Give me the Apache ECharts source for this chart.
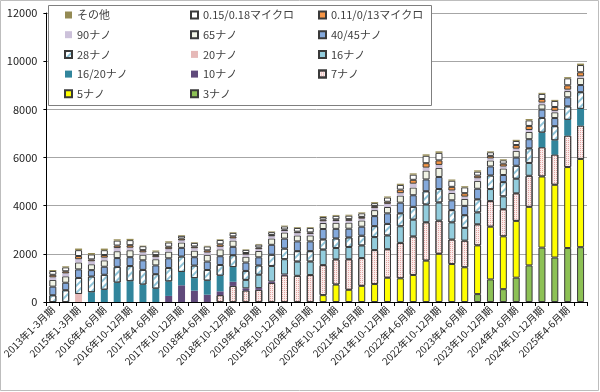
<!DOCTYPE html>
<html><head><meta charset="utf-8">
<script src="https://cdn.jsdelivr.net/npm/echarts@6/dist/echarts.min.js"></script>
<style>html,body{margin:0;padding:0;background:#fff}#c{width:600px;height:392px}</style>
</head><body><div id="c"></div><script>
function pad(k){ return Array(k).fill(null); }

const categories = [
 '2013年1-3月期','2014年1-3月期','2015年1-3月期','2016年1-3月期','2016年4-6月期','2016年7-9月期','2016年10-12月期',
 '2017年1-3月期','2017年4-6月期','2017年7-9月期','2017年10-12月期',
 '2018年1-3月期','2018年4-6月期','2018年7-9月期','2018年10-12月期',
 '2019年1-3月期','2019年4-6月期','2019年7-9月期','2019年10-12月期',
 '2020年1-3月期','2020年4-6月期','2020年7-9月期','2020年10-12月期',
 '2021年1-3月期','2021年4-6月期','2021年7-9月期','2021年10-12月期',
 '2022年1-3月期','2022年4-6月期','2022年7-9月期','2022年10-12月期',
 '2023年1-3月期','2023年4-6月期','2023年7-9月期','2023年10-12月期',
 '2024年1-3月期','2024年4-6月期','2024年7-9月期','2024年10-12月期',
 '2025年1-3月期','2025年4-6月期','2025年7-9月期'
];

const yTicks = [0, 2000, 4000, 6000, 8000, 10000, 12000];

const s3 = pad(33).concat([328, 938, 533, 1010, 1519, 2258, 1846, 2241, 2277]);
const s5 = pad(21).concat([285, 723, 507, 670, 746, 1008, 982, 1122, 1717, 2002, 1577, 1442, 2023, 2189, 2193, 2357, 2431, 2953, 3021, 3362, 3663]);
const s7 = pad(13).concat([286, 667, 481, 506, 791, 1110, 1087, 1119, 1247, 1048, 1268, 1154, 1410, 1183, 1473, 1602, 1594, 1376, 1017, 1106, 875, 1063, 1126, 1145, 1291, 1216, 1259, 1307, 1386]);
const s10 = pad(9).concat([252, 694, 471, 303, 156, 174, 87, 72, 59, 32]).concat(pad(23));
const s1620 = pad(3).concat([407, 510, 807, 865, 725, 556, 605, 555, 521, 583, 651, 609]).concat(pad(23)).concat([608, 588, 654, 693]);
const s16 = pad(15).concat([350, 554, 645, 634, 590, 559, 642, 470, 507, 521, 539, 570, 688, 694, 736, 751, 712, 529, 492, 500, 533, 606, 532]).concat(pad(4));
const s20 = [null, null, 333].concat(pad(39));
const s28 = [279, 489, 666, 651, 621, 651, 629, 608, 599, 555, 638, 521, 443, 443, 493, 372, 386, 469, 444, 435, 435, 428, 398, 399, 409, 456, 482, 540, 534, 552, 563, 509, 529, 547, 563, 593, 539, 608, 608, 588, 560, 693];
const s4045 = [359, 311, 355, 265, 333, 365, 367, 398, 364, 403, 361, 347, 350, 364, 348, 350, 337, 410, 412, 404, 404, 428, 398, 362, 372, 415, 438, 442, 481, 490, 500, 407, 385, 437, 375, 296, 340, 380, 347, 336, 374, 297];
const s65 = [279, 267, 289, 244, 266, 286, 288, 234, 257, 277, 222, 273, 280, 286, 261, 241, 265, 264, 254, 248, 249, 249, 253, 254, 260, 249, 263, 295, 320, 368, 375, 305, 288, 328, 250, 270, 280, 300, 220, 240, 260, 300];
const s90 = [106, 119, 133, 122, 111, 130, 105, 94, 86, 101, 83, 99, 93, 104, 87, 87, 72, 88, 63, 93, 62, 71, 72, 72, 74, 83, 131, 98, 160, 123, 125, 102, 96, 109, 80, 80, 90, 80, 70, 60, 60, 60];
const s011 = [106, 89, 133, 81, 111, 104, 105, 94, 86, 101, 83, 74, 93, 104, 87, 66, 72, 59, 63, 62, 62, 71, 72, 72, 74, 83, 88, 147, 160, 184, 188, 153, 144, 109, 110, 120, 150, 170, 150, 160, 180, 170];
const s015 = [159, 163, 244, 204, 200, 208, 210, 164, 150, 176, 111, 149, 163, 182, 145, 131, 121, 117, 127, 155, 186, 107, 145, 145, 149, 124, 175, 196, 214, 307, 313, 254, 240, 164, 150, 140, 170, 230, 210, 250, 290, 300];
const sOther = [40, 44, 67, 61, 66, 53, 53, 22, 41, 51, 29, 26, 25, 27, 27, 22, 25, 28, 33, 32, 31, 36, 36, 38, 38, 42, 44, 50, 54, 60, 62, 50, 49, 55, 37, 42, 48, 56, 45, 45, 50, 60];

const FONT = '"Noto Sans CJK JP", "Noto Sans", sans-serif';
const B = '#3a3a3a';

function mk(name, data, color, bordered, decal) {
  const st = { color: color, borderColor: bordered ? B : color, borderWidth: bordered ? 1 : 0 };
  if (decal) st.decal = decal;
  return { name: name, type: 'bar', stack: 't', data: data, barWidth: 7, itemStyle: st, emphasis: { disabled: true } };
}

const series = [
  mk('3ナノ', s3, '#8dc155', true),
  mk('5ナノ', s5, '#ffff00', true),
  mk('7ナノ', s7, '#fbeceb', true, { symbol: 'rect', symbolSize: 1, dashArrayX: [1, 1], dashArrayY: [1, 1], color: '#e2a6a4' }),
  mk('10ナノ', s10, '#604a7b', false),
  mk('16/20ナノ', s1620, '#31859c', false),
  mk('16ナノ', s16, '#93cddd', true),
  mk('20ナノ', s20, '#e6b9b8', false),
  mk('28ナノ', s28, '#ffffff', true, { symbol: 'rect', symbolSize: 1, dashArrayX: [1, 0], dashArrayY: [2, 3], rotation: -Math.PI / 4, color: '#8ec3d8' }),
  mk('40/45ナノ', s4045, '#84a9dc', true),
  mk('65ナノ', s65, '#f1f4e6', true),
  mk('90ナノ', s90, '#ccc1da', false),
  mk('0.11/0/13マイクロ', s011, '#f79646', true),
  mk('0.15/0.18マイクロ', s015, '#ffffff', true),
  mk('その他', sOther, '#948a54', false)
];

function lg(left, data) {
  return { left: left, top: 9.5, orient: 'vertical', padding: 0, itemGap: 8.7, itemWidth: 7, itemHeight: 7,
    selectedMode: false, data: data, icon: 'rect',
    textStyle: { fontSize: 11, color: '#404040', fontFamily: FONT, lineHeight: 11 } };
}

const chart = echarts.init(document.getElementById('c'), null, { renderer: 'canvas' });
chart.setOption({
  animation: false,
  backgroundColor: '#fff',
  textStyle: { fontFamily: FONT },
  grid: { left: 43, right: 13, top: 13, bottom: 90, containLabel: false },
  graphic: {
    elements: [
      { type: 'rect', z: 3, shape: { x: 0.5, y: 0.5, width: 598, height: 390 }, style: { fill: 'none', stroke: '#bdbdbd', lineWidth: 1 } },
      { type: 'rect', z: 3, shape: { x: 48.5, y: 5.5, width: 383, height: 100 }, style: { fill: '#fff', stroke: '#7f7f7f', lineWidth: 1 } }
    ]
  },
  legend: [
    lg(64, ['その他', '90ナノ', '28ナノ', '16/20ナノ', '5ナノ']),
    lg(190, ['0.15/0.18マイクロ', '65ナノ', '20ナノ', '10ナノ', '3ナノ']),
    lg(318, ['0.11/0/13マイクロ', '40/45ナノ', '16ナノ', '7ナノ'])
  ],
  xAxis: {
    type: 'category', data: categories,
    axisLine: { lineStyle: { color: '#000', width: 1 } },
    axisTick: { show: true, interval: 0, length: 4, lineStyle: { color: '#000' } },
    axisLabel: { interval: 1, rotate: 45, fontSize: 10, color: '#222', margin: 6, fontFamily: FONT }
  },
  yAxis: {
    type: 'value', min: yTicks[0], max: yTicks[yTicks.length - 1], interval: 2000,
    axisLine: { show: true, lineStyle: { color: '#000', width: 1 } },
    axisTick: { show: true, length: 3, lineStyle: { color: '#000' } },
    axisLabel: { fontSize: 11, color: '#222', margin: 9, fontFamily: FONT, formatter: function (v) { return String(v); } },
    splitLine: { lineStyle: { color: '#a6a6a6', width: 1 } }
  },
  series: series
});
</script></body></html>
